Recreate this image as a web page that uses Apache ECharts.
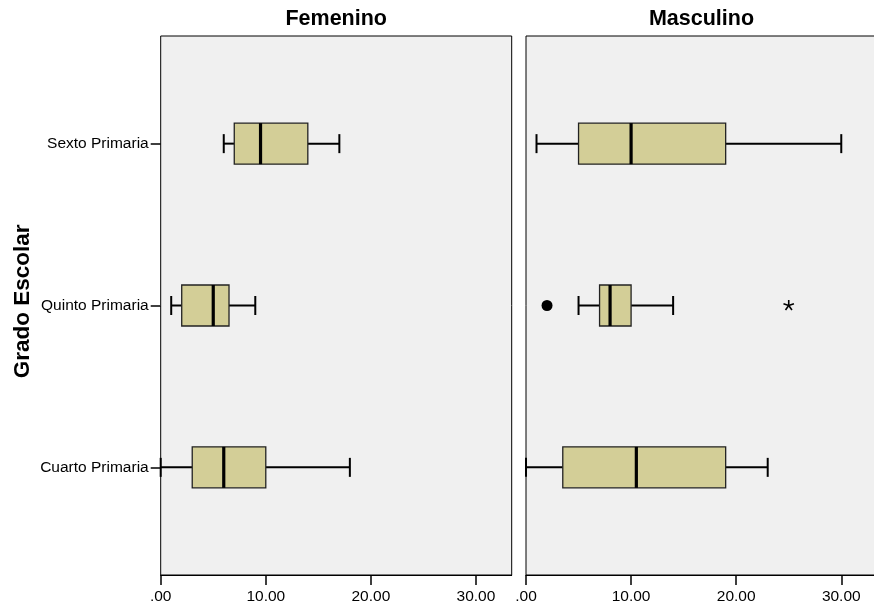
<!DOCTYPE html>
<html>
<head>
<meta charset="utf-8">
<script src="https://cdn.jsdelivr.net/npm/echarts@6/dist/echarts.min.js"></script>
<style>
  html, body { margin: 0; padding: 0; background: #ffffff; }
  #chart { width: 874px; height: 610px; }
</style>
</head>
<body>
<div id="chart"></div>
<script>
// Grade levels, bottom to top
const categories = ['Cuarto Primaria', 'Quinto Primaria', 'Sexto Primaria'];
const panelTitles = ['Femenino', 'Masculino'];
const xTickValues = [0, 10, 20, 30];

// Five-number summaries per grade: [whisker low, Q1, median, Q3, whisker high]
const femenino = [
  [0, 3, 6, 10, 18],
  [1, 2, 5, 6.5, 9],
  [6, 7, 9.5, 14, 17]
];
const masculino = [
  [0, 3.5, 10.5, 19, 23],
  [5, 7, 8, 10, 14],
  [1, 5, 10, 19, 30]
];
// Outliers (circle) and extreme values (star): [value, grade index]
const masculinoOutliers = [[2, 1]];
const masculinoExtremes = [[25, 1]];
const femeninoOutliers = [];
const femeninoExtremes = [];

const FONT = "'Liberation Sans', Arial, Helvetica, sans-serif";
const BOX_FILL = '#d3ce97';
const BOX_HALF = 20.5;
const CAP_HALF = 9.5;

function toRows(summary) {
  return summary.map((s, i) => [i].concat(s));
}

function renderBox(params, api) {
  const cat = api.value(0);
  const lo = api.coord([api.value(1), cat]);
  const q1 = api.coord([api.value(2), cat]);
  const md = api.coord([api.value(3), cat]);
  const q3 = api.coord([api.value(4), cat]);
  const hi = api.coord([api.value(5), cat]);
  const y = lo[1];
  const lineStyle = { stroke: '#000', lineWidth: 2 };
  return {
    type: 'group',
    children: [
      { type: 'line', shape: { x1: lo[0], y1: y, x2: q1[0], y2: y }, style: lineStyle },
      { type: 'line', shape: { x1: q3[0], y1: y, x2: hi[0], y2: y }, style: lineStyle },
      { type: 'line', shape: { x1: lo[0], y1: y - CAP_HALF, x2: lo[0], y2: y + CAP_HALF }, style: lineStyle },
      { type: 'line', shape: { x1: hi[0], y1: y - CAP_HALF, x2: hi[0], y2: y + CAP_HALF }, style: lineStyle },
      { type: 'rect', shape: { x: q1[0], y: y - BOX_HALF, width: q3[0] - q1[0], height: BOX_HALF * 2 },
        style: { fill: BOX_FILL, stroke: '#222', lineWidth: 1.3 } },
      { type: 'line', shape: { x1: md[0], y1: y - BOX_HALF, x2: md[0], y2: y + BOX_HALF },
        style: { stroke: '#000', lineWidth: 3.2 } }
    ]
  };
}

function renderStar(params, api) {
  const p = api.coord([api.value(0), api.value(1)]);
  const r = 5.5;
  const children = [];
  for (let k = 0; k < 5; k++) {
    const a = -Math.PI / 2 + k * 2 * Math.PI / 5;
    children.push({
      type: 'line',
      shape: { x1: p[0], y1: p[1], x2: p[0] + r * Math.cos(a), y2: p[1] + r * Math.sin(a) },
      style: { stroke: '#000', lineWidth: 1.6 }
    });
  }
  return { type: 'group', children };
}

// The second panel runs past the right edge of the canvas
const grids = [
  { left: 160.7, top: 36, width: 351, height: 539 },
  { left: 526, top: 36, width: 351, height: 539 }
].map(g => Object.assign(g, {
  show: true, backgroundColor: '#f0f0f0', borderColor: '#000', borderWidth: 1,
  containLabel: false, outerBoundsMode: 'none'
}));

const xAxes = [0, 1].map(i => ({
  type: 'value', gridIndex: i, min: 0, max: 33.4, position: 'bottom',
  axisLine: { show: true, onZero: false, lineStyle: { color: '#000', width: 1 } },
  axisTick: { show: true, length: 10, customValues: xTickValues, lineStyle: { color: '#000', width: 1.5 } },
  axisLabel: {
    customValues: xTickValues, margin: 14, color: '#000', fontFamily: FONT, fontSize: 15.5,
    formatter: v => (v === 0 ? '.00' : v.toFixed(2))
  },
  splitLine: { show: false }
}));

const yAxes = [0, 1].map(i => ({
  type: 'value', gridIndex: i, min: -0.665, max: 2.665, position: 'left',
  axisLine: { show: false, onZero: false },
  axisTick: { show: i === 0, length: 10, customValues: [0, 1, 2], lineStyle: { color: '#000', width: 1.5 } },
  axisLabel: {
    show: i === 0, customValues: [0, 1, 2], margin: 12, color: '#000', fontFamily: FONT, fontSize: 15.5,
    formatter: v => categories[Math.round(v)] || ''
  },
  splitLine: { show: false }
}));

const panels = [
  { box: femenino, outliers: femeninoOutliers, extremes: femeninoExtremes },
  { box: masculino, outliers: masculinoOutliers, extremes: masculinoExtremes }
];

const series = [];
panels.forEach((p, i) => {
  series.push({
    type: 'custom', xAxisIndex: i, yAxisIndex: i,
    data: toRows(p.box),
    encode: { x: [1, 2, 3, 4, 5], y: 0 },
    renderItem: renderBox, silent: true, z: 3
  });
  series.push({
    type: 'scatter', xAxisIndex: i, yAxisIndex: i,
    data: p.outliers, symbol: 'circle', symbolSize: 11,
    itemStyle: { color: '#000', opacity: 1 }, silent: true, z: 4
  });
  series.push({
    type: 'custom', xAxisIndex: i, yAxisIndex: i,
    data: p.extremes, encode: { x: 0, y: 1 },
    renderItem: renderStar, silent: true, z: 4
  });
});

const chart = echarts.init(document.getElementById('chart'), null, { renderer: 'canvas' });
chart.setOption({
  animation: false,
  backgroundColor: '#ffffff',
  title: [
    { text: panelTitles[0], left: 336.2, top: 8, textAlign: 'center', padding: 0,
      textStyle: { fontFamily: FONT, fontSize: 21.5, fontWeight: 'bold', color: '#000' } },
    { text: panelTitles[1], left: 701.5, top: 8, textAlign: 'center', padding: 0,
      textStyle: { fontFamily: FONT, fontSize: 21.5, fontWeight: 'bold', color: '#000' } }
  ],
  grid: grids,
  xAxis: xAxes,
  yAxis: yAxes,
  series: series,
  graphic: [{
    type: 'text', x: 22.5, y: 301.3, rotation: Math.PI / 2,
    style: {
      text: 'Grado Escolar', fontFamily: FONT, fontSize: 22.5, fontWeight: 'bold',
      fill: '#000', align: 'center', verticalAlign: 'middle'
    }
  }]
});
</script>
</body>
</html>
